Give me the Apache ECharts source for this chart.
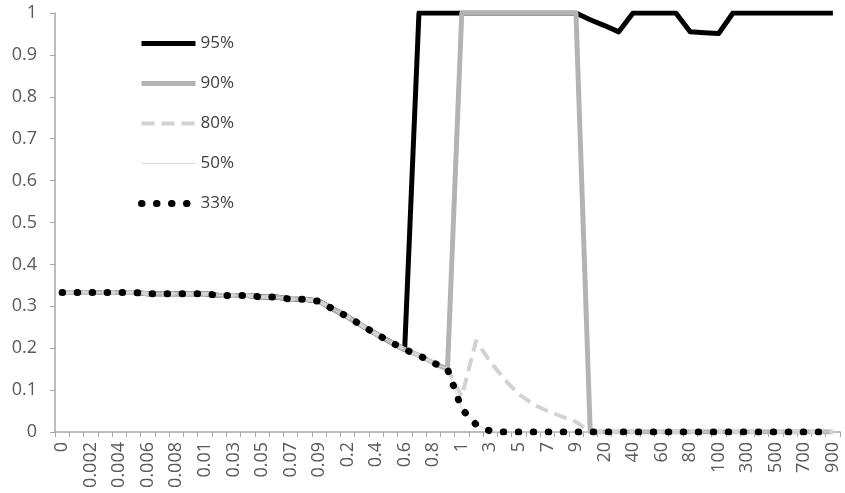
<!DOCTYPE html>
<html>
<head>
<meta charset="utf-8">
<script src="https://cdn.jsdelivr.net/npm/echarts@6/dist/echarts.min.js"></script>
<style>
html,body{margin:0;padding:0;background:#fff;}
#chart{width:845px;height:493px;}
</style>
</head>
<body>
<div id="chart"></div>
<script>
// Categories (x axis)
const categories = [
  "0",
  "0.001","0.002","0.003","0.004","0.005","0.006","0.007","0.008","0.009",
  "0.01","0.02","0.03","0.04","0.05","0.06","0.07","0.08","0.09",
  "0.1","0.2","0.3","0.4","0.5","0.6","0.7","0.8","0.9",
  "1","2","3","4","5","6","7","8","9",
  "10","20","30","40","50","60","70","80","90",
  "100","200","300","400","500","600","700","800","900"
];

const s95 = [
  0.333,0.333,0.333,0.333,0.333,0.333,0.33,0.33,0.33,0.33,
  0.33,0.326,0.326,0.326,0.322,0.322,0.317,0.317,0.312,0.293,
  0.275,0.254,0.234,0.215,0.197,1,1,1,1,1,
  1,1,1,1,1,1,1,0.984,0.97,0.955,
  1,1,1,1,0.955,0.953,0.951,1,1,1,
  1,1,1,1,1
];
const s90 = [
  0.333,0.333,0.333,0.333,0.333,0.333,0.33,0.33,0.33,0.33,
  0.33,0.326,0.326,0.326,0.322,0.322,0.317,0.317,0.312,0.293,
  0.275,0.254,0.234,0.215,0.197,0.183,0.165,0.15,1,1,
  1,1,1,1,1,1,1,0,0,0,
  0,0,0,0,0,0,0,0,0,0,
  0,0,0,0,0
];
const s80 = [
  0.333,0.333,0.333,0.333,0.333,0.333,0.33,0.33,0.33,0.33,
  0.33,0.326,0.326,0.326,0.322,0.322,0.317,0.317,0.312,0.293,
  0.275,0.254,0.234,0.215,0.197,0.183,0.165,0.15,0.085,0.217,
  0.168,0.125,0.09,0.066,0.05,0.037,0.024,0,0,0,
  0,0,0,0,0,0,0,0,0,0,
  0,0,0,0,0
];
const s50 = [
  0.333,0.333,0.333,0.333,0.333,0.333,0.33,0.33,0.33,0.33,
  0.33,0.326,0.326,0.326,0.322,0.322,0.317,0.317,0.312,0.293,
  0.275,0.254,0.234,0.215,0.197,0.183,0.165,0.15,0.055,0.018,
  0.002,0,0,0,0,0,0,0,0,0,
  0,0,0,0,0,0,0,0,0,0,
  0,0,0,0,0
];
const s33 = [
  0.333,0.333,0.333,0.333,0.333,0.333,0.33,0.33,0.33,0.33,
  0.33,0.326,0.326,0.326,0.322,0.322,0.317,0.317,0.312,0.293,
  0.275,0.254,0.234,0.215,0.197,0.183,0.165,0.15,0.055,0.018,
  0.002,0,0,0,0,0,0,0,0,0,
  0,0,0,0,0,0,0,0,0,0,
  0,0,0,0,0
];
const seriesNames = ["95%","90%","80%","50%","33%"];

const FONT = "'Open Sans', sans-serif";
const styles = [
  {color:'#000000', width:5, type:'solid', cap:'butt'},
  {color:'#b3b3b3', width:5, type:'solid', cap:'butt'},
  {color:'#d2d2d2', width:4, type:[13,7], cap:'butt'},
  {color:'#d9d9d9', width:1, type:'solid', cap:'butt'},
  {color:'#000000', width:7, type:[0.5,14.5], cap:'round'}
];
const values = [s95, s90, s80, s50, s33];

const chart = echarts.init(document.getElementById('chart'), null, {renderer:'canvas'});
chart.setOption({
  animation:false,
  backgroundColor:'#ffffff',
  grid:{left:55, right:5, top:13, bottom:61, containLabel:false, outerBoundsMode:'none'},
  legend:{
    orient:'vertical',
    left:138, top:35, padding:0,
    itemWidth:54, itemHeight:16, itemGap:23,
    selectedMode:false,
    textStyle:{fontFamily:FONT, fontSize:17, color:'#404040'},
    data: seriesNames.map((n,i)=>({
      name:n,
      itemStyle:{opacity:0, borderWidth:0},
      lineStyle:{color:styles[i].color, width:styles[i].width, type:styles[i].type, cap:styles[i].cap, opacity:1}
    }))
  },
  xAxis:{
    type:'category',
    data:categories,
    boundaryGap:true,
    axisLine:{lineStyle:{color:'#a6a6a6', width:1.5}},
    axisTick:{show:true, interval:0, length:5, lineStyle:{color:'#a6a6a6'}},
    axisLabel:{interval:1, rotate:90, margin:10, fontFamily:FONT, fontSize:18, color:'#595959'},
    splitLine:{show:false}
  },
  yAxis:{
    type:'value',
    min:0, max:1, interval:0.1,
    axisLine:{show:true, lineStyle:{color:'#a6a6a6', width:1.5}},
    axisTick:{show:true, length:5, lineStyle:{color:'#a6a6a6'}},
    axisLabel:{margin:18, fontFamily:FONT, fontSize:18, color:'#595959'},
    splitLine:{show:false}
  },
  series: seriesNames.map((n,i)=>({
    name:n,
    type:'line',
    data:values[i],
    symbol:'none',
    showSymbol:false,
    smooth:false,
    lineStyle:{color:styles[i].color, width:styles[i].width, type:styles[i].type, cap:styles[i].cap, join:'round'},
    itemStyle:{color:styles[i].color},
    emphasis:{disabled:true}
  }))
});
</script>
</body>
</html>
